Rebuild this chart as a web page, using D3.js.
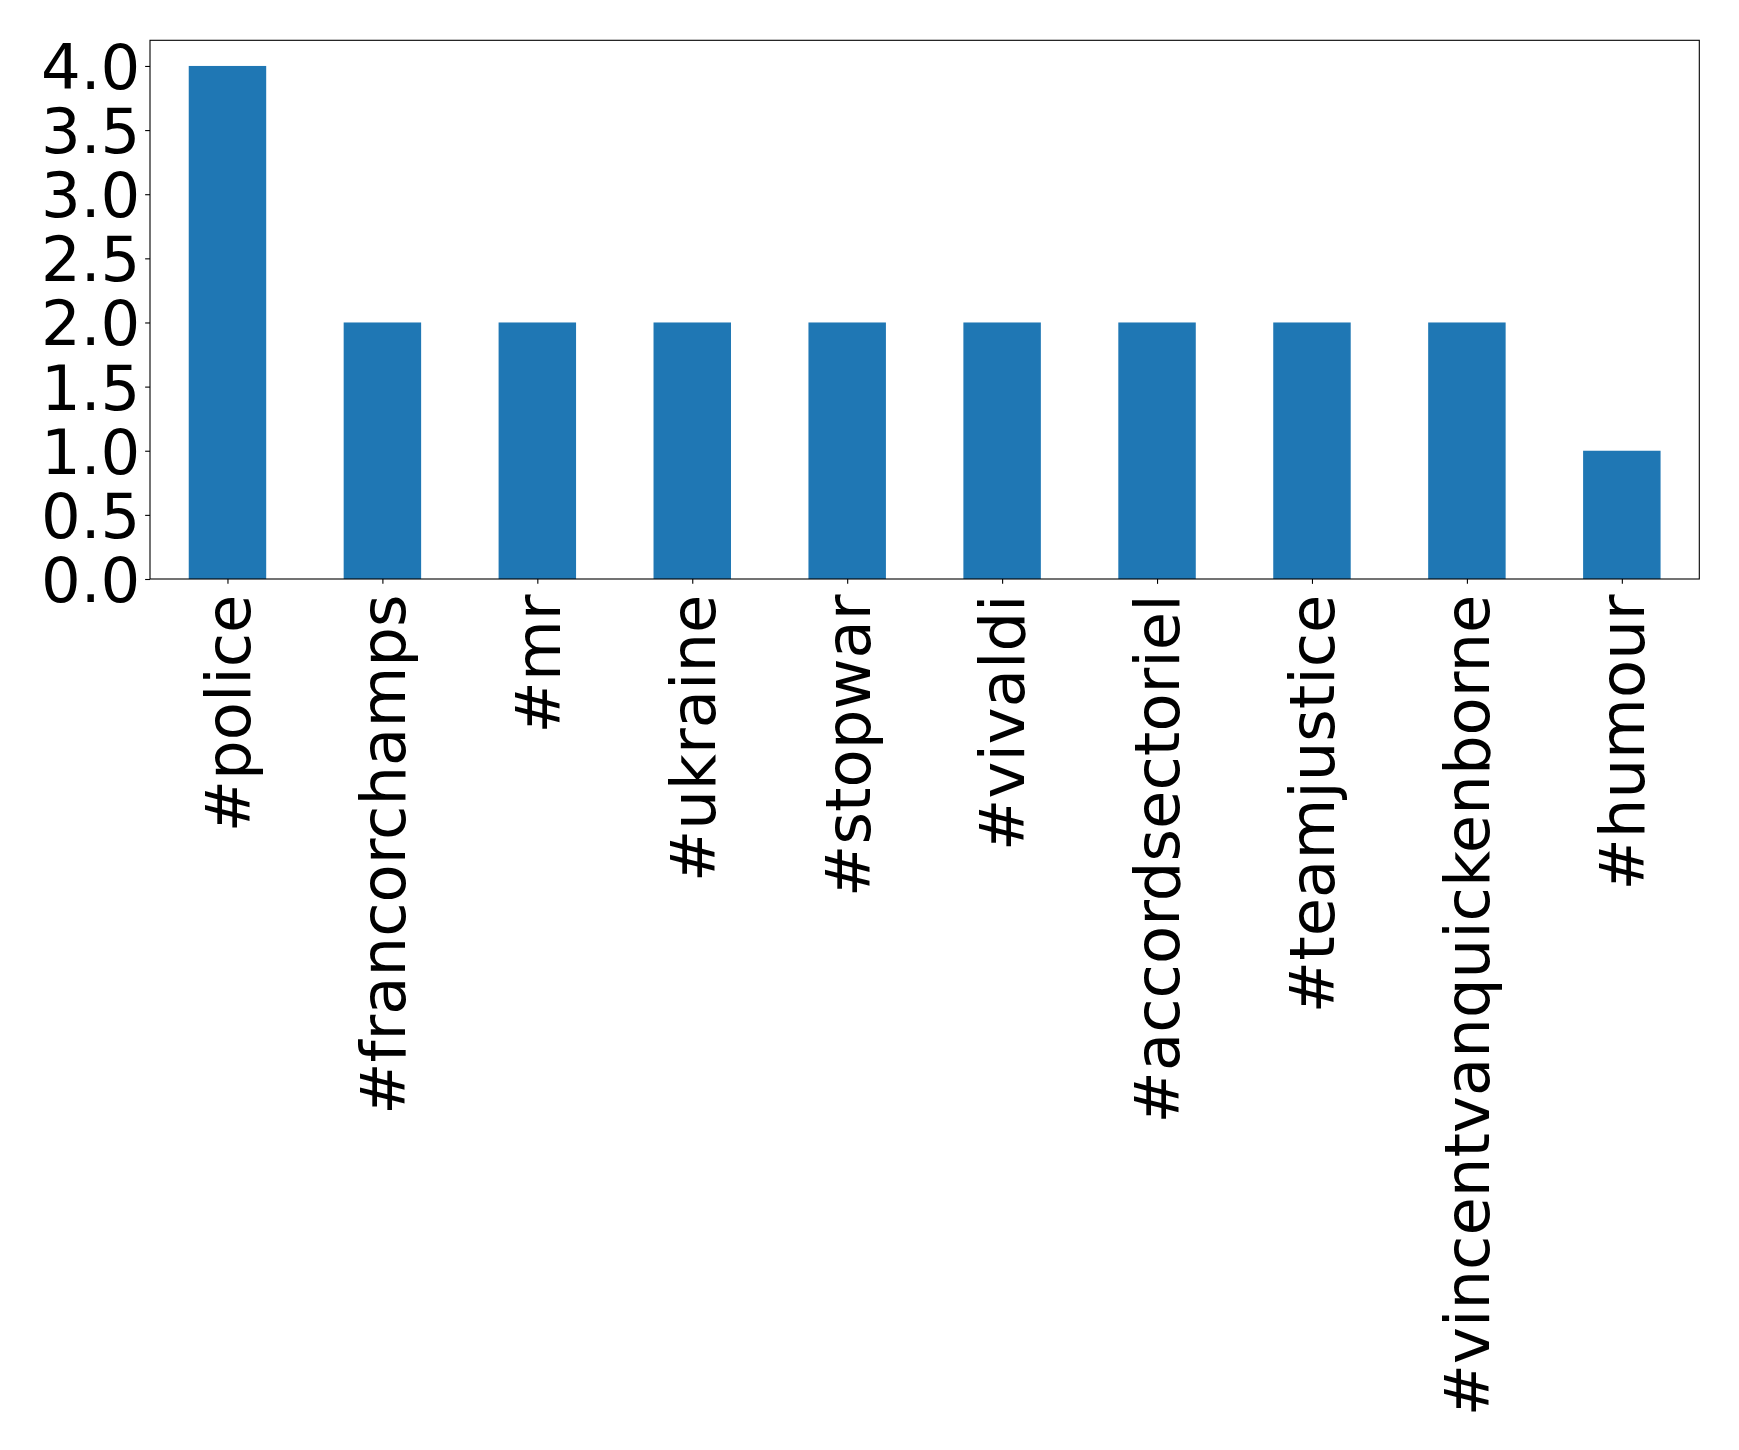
<!DOCTYPE html>
<html><head><meta charset="utf-8">
<script src="https://cdn.jsdelivr.net/npm/d3@7"></script>
<style>body{margin:0;background:#fff}</style>
</head><body>
<svg id="c" width="1739" height="1450"></svg>
<script>
const categories = ["#police","#francorchamps","#mr","#ukraine","#stopwar","#vivaldi","#accordsectoriel","#teamjustice","#vincentvanquickenborne","#humour"];
const values = [4,2,2,2,2,2,2,2,2,1];
const yTicks = [0,0.5,1,1.5,2,2.5,3,3.5,4];
const yTickLabels = ["0.0","0.5","1.0","1.5","2.0","2.5","3.0","3.5","4.0"];

const svg = d3.select("#c");
const L = 150, R = 1699.3, T = 40.3, B = 579;
const font = "DejaVu Sans, sans-serif", fs = 62.5;
const x = d3.scaleLinear().domain([-0.5, categories.length - 0.5]).range([L, R]);
const y = d3.scaleLinear().domain([0, 4.2]).range([B, T]);

svg.append("g").selectAll("rect").data(values).join("rect")
  .attr("x", (d,i) => x(i - 0.25)).attr("width", (d,i) => x(i+0.25) - x(i-0.25))
  .attr("y", d => y(d)).attr("height", d => y(0) - y(d))
  .attr("fill", "#1f77b4");

const yAxis = d3.axisLeft(y).tickValues(yTicks).tickFormat((d,i) => yTickLabels[i]).tickSize(4.86).tickPadding(4.86);
const gy = svg.append("g").attr("transform", `translate(${L},0)`).call(yAxis);
gy.select(".domain").remove();
gy.selectAll("line").attr("stroke", "#000").attr("stroke-width", 1.1);
gy.selectAll("text").attr("font-family", font).attr("font-size", fs).attr("fill", "#000").attr("dy", "0.36em");

const xAxis = d3.axisBottom(x).tickValues(d3.range(categories.length)).tickFormat(i => categories[i]).tickSize(4.86).tickPadding(0);
const gx = svg.append("g").attr("transform", `translate(0,${B})`).call(xAxis);
gx.select(".domain").remove();
gx.selectAll("line").attr("stroke", "#000").attr("stroke-width", 1.1);
gx.selectAll("text").attr("font-family", font).attr("font-size", fs).attr("fill", "#000")
  .attr("text-anchor", "end").attr("y", 0).attr("dy", "0.35em")
  .attr("transform", "translate(0,15.5) rotate(-90)");

svg.append("rect").attr("x", L).attr("y", T).attr("width", R - L).attr("height", B - T)
  .attr("fill", "none").attr("stroke", "#000").attr("stroke-width", 1.1);
</script>
</body></html>
